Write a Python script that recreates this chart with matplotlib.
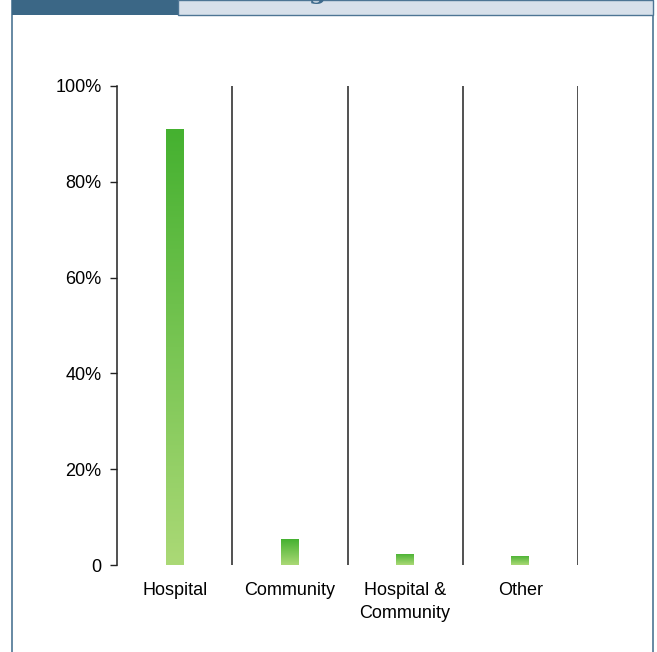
import matplotlib
matplotlib.use("Agg")
import matplotlib.pyplot as plt
import numpy as np
from matplotlib.colors import LinearSegmentedColormap
from matplotlib.patches import Rectangle
from matplotlib.ticker import FuncFormatter

# Share of respondents by practice setting
settings = ["Hospital", "Community", "Hospital &\nCommunity", "Other"]
share = [91.0, 5.4, 2.3, 1.9]
y_ticks = [0, 20, 40, 60, 80, 100]

plt.rcParams['font.family'] = ['Liberation Sans Narrow', 'Liberation Sans', 'DejaVu Sans']

fig = plt.figure(figsize=(6.57, 6.52), dpi=100, facecolor="white")
W, H = 657, 652

# Panel frame and header strip
frame_col = "#4d7594"
fig.patches.append(Rectangle((12 / W, -0.01), (653 - 12) / W, 1.02, transform=fig.transFigure,
                             facecolor="none", edgecolor=frame_col, linewidth=1.2, zorder=-2))
fig.patches.append(Rectangle((12 / W, 1 - 15 / H), (178 - 12) / W, 15 / H, transform=fig.transFigure,
                             facecolor="#3b6786", edgecolor="none", zorder=-1))
fig.patches.append(Rectangle((178 / W, 1 - 15 / H), (653 - 178) / W, 15 / H, transform=fig.transFigure,
                             facecolor="#d7e0ea", edgecolor=frame_col, linewidth=1.0, zorder=-1))
fig.text(318 / W, 1 + 0.5 / H, "g", ha="center", va="baseline", fontsize=18,
         family="DejaVu Serif", fontweight="bold", color="#3d6a8c")

ax = fig.add_axes([117 / W, 1 - 565 / H, (578 - 117) / W, (565 - 86) / H])
ax.set_facecolor("none")

x = np.arange(1, len(settings) + 1)
bar_w = 0.156
cmap = LinearSegmentedColormap.from_list("grn", ["#abd976", "#45b130"])
grad = np.linspace(0, 1, 256).reshape(-1, 1)

bars = ax.bar(x, share, width=bar_w, color="none", edgecolor="none")
for b in bars:
    x0, w, h = b.get_x(), b.get_width(), b.get_height()
    im = ax.imshow(grad, cmap=cmap, origin="lower", aspect="auto",
                   extent=(x0, x0 + w, 0, h), zorder=2)
    im.set_clip_path(b)

ax.set_xlim(0.5, len(settings) + 0.5)
ax.set_ylim(0, 100)

# Category separators
for sx in np.arange(1.5, len(settings) + 0.6, 1.0):
    ax.axvline(sx, color="#222222", linewidth=1.1, zorder=1)

ax.spines["top"].set_visible(False)
ax.spines["bottom"].set_visible(False)
ax.spines["right"].set_visible(False)
ax.spines["left"].set_color("#222222")
ax.spines["left"].set_linewidth(1.1)

ax.set_yticks(y_ticks)
ax.yaxis.set_major_formatter(FuncFormatter(lambda v, p: "0" if v == 0 else f"{v:.0f}%"))
ax.tick_params(axis="y", length=5, width=1.0, color="#222222", pad=6, labelsize=13)
ax.set_xticks(x)
ax.set_xticklabels(settings, fontsize=13, linespacing=1.45)
ax.tick_params(axis="x", length=0, pad=12)

fig.savefig("out.png", dpi=100, facecolor="white")
